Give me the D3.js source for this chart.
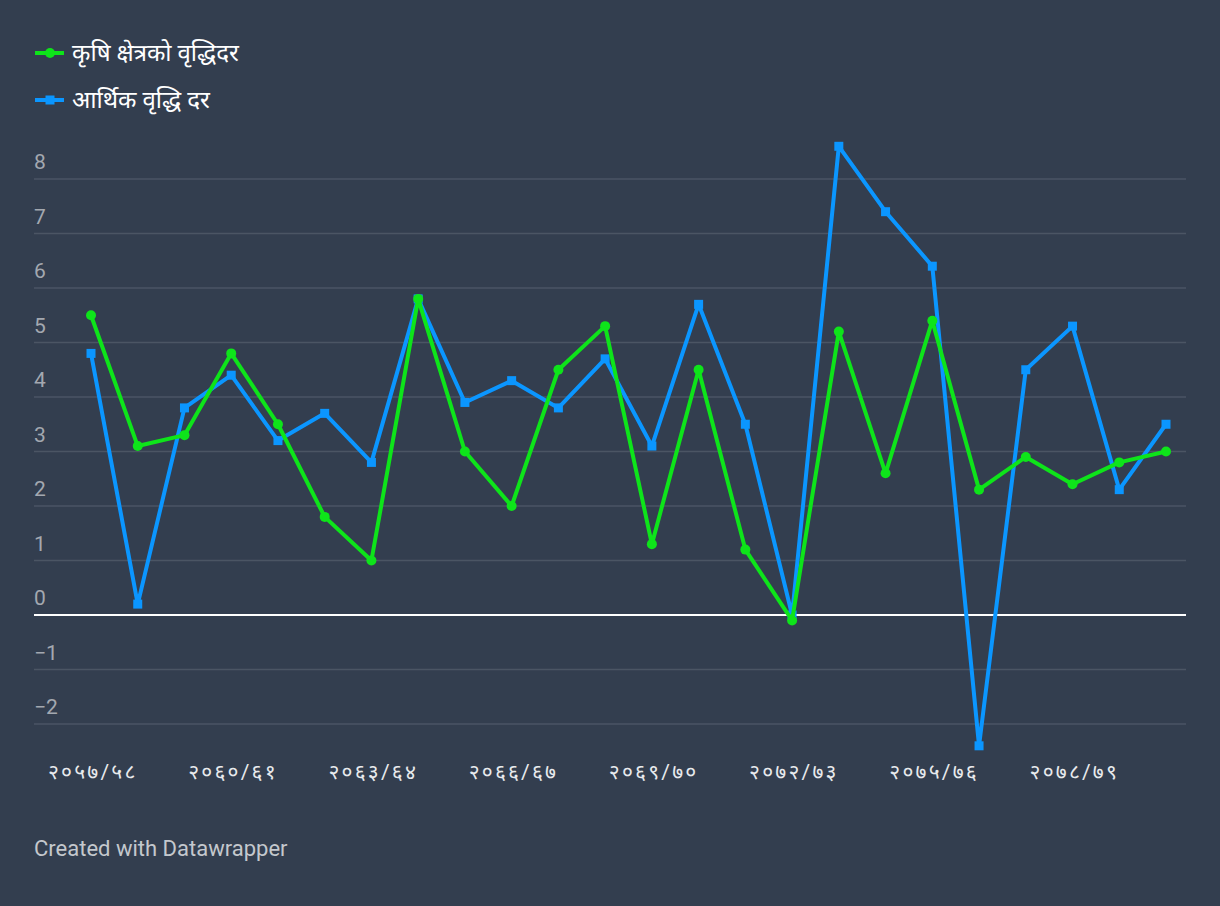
<!DOCTYPE html>
<html><head><meta charset="utf-8">
<script src="https://cdn.jsdelivr.net/npm/d3@7"></script>
<style>
html,body{margin:0;padding:0;background:#333e4f;}
svg{display:block;font-family:Roboto,"Noto Sans",sans-serif;}
</style></head>
<body><svg id="c" width="1220" height="906"></svg>
<script>
const years = ["२०५७/५८","२०५८/५९","२०५९/६०","२०६०/६१","२०६१/६२","२०६२/६३","२०६३/६४","२०६४/६५","२०६५/६६","२०६६/६७","२०६७/६८","२०६८/६९","२०६९/७०","२०७०/७१","२०७१/७२","२०७२/७३","२०७३/७४","२०७४/७५","२०७५/७६","२०७६/७७","२०७७/७८","२०७८/७९","२०७९/८०","२०८०/८१"];
const agri = [5.5,3.1,3.3,4.8,3.5,1.8,1.0,5.8,3.0,2.0,4.5,5.3,1.3,4.5,1.2,-0.1,5.2,2.6,5.4,2.3,2.9,2.4,2.8,3.0];
const gdp = [4.8,0.2,3.8,4.4,3.2,3.7,2.8,5.8,3.9,4.3,3.8,4.7,3.1,5.7,3.5,0.0,8.6,7.4,6.4,-2.4,4.5,5.3,2.3,3.5];
const yTicks = [-2,-1,0,1,2,3,4,5,6,7,8];
const xTickLabels = ["२०५७/५८","२०६०/६१","२०६३/६४","२०६६/६७","२०६९/७०","२०७२/७३","२०७५/७६","२०७८/७९"];
const seriesNames = ["कृषि क्षेत्रको वृद्धिदर","आर्थिक वृद्धि दर"];
const colors = ["#0ee41a","#0b96ff"];

const svg = d3.select("#c");
const x = d3.scalePoint().domain(years).range([91,1166]);
const y = d3.scaleLinear().domain([0,8]).range([615,179]);

// gridlines
const grid = svg.append("g");
yTicks.forEach(t=>{
  grid.append("line").attr("x1",34).attr("x2",1186).attr("y1",y(t)).attr("y2",y(t))
    .attr("stroke", t===0 ? "#ffffff" : "#4b5564").attr("stroke-width", t===0?2:1.5);
  grid.append("text").attr("x",34).attr("y",y(t)-10).text(t<0 ? "\u2212"+Math.abs(t) : t)
    .attr("fill","#a3a8b0").attr("font-size",21);
});

// x labels
xTickLabels.forEach(l=>{
  svg.append("text").attr("x",x(l)-43).attr("y",779).text(l).attr("fill","#e8eaed")
    .attr("font-size",21).attr("letter-spacing",2.2);
});

const line = d3.line().x((d,i)=>x(years[i])).y(d=>y(d));
// blue first, green on top
svg.append("path").datum(gdp).attr("d",line).attr("fill","none").attr("stroke",colors[1]).attr("stroke-width",4).attr("stroke-linejoin","round");
svg.selectAll(".sq").data(gdp).enter().append("rect")
  .attr("x",(d,i)=>x(years[i])-4.5).attr("y",d=>y(d)-4.5).attr("width",9).attr("height",9).attr("fill",colors[1]);
svg.append("path").datum(agri).attr("d",line).attr("fill","none").attr("stroke",colors[0]).attr("stroke-width",4).attr("stroke-linejoin","round");
svg.selectAll(".ci").data(agri).enter().append("circle")
  .attr("cx",(d,i)=>x(years[i])).attr("cy",d=>y(d)).attr("r",5).attr("fill",colors[0]);

// legend
seriesNames.forEach((n,i)=>{
  const ly = 53 + i*47;
  svg.append("line").attr("x1",35).attr("x2",64).attr("y1",ly).attr("y2",ly).attr("stroke",colors[i]).attr("stroke-width",4);
  if(i===0) svg.append("circle").attr("cx",50).attr("cy",ly).attr("r",5).attr("fill",colors[i]);
  else svg.append("rect").attr("x",45.5).attr("y",ly-4.5).attr("width",9).attr("height",9).attr("fill",colors[i]);
  svg.append("text").attr("x",72).attr("y",ly+8).text(n).attr("fill","#ffffff").attr("font-size",24);
});

svg.append("text").attr("x",34).attr("y",856).text("Created with Datawrapper").attr("fill","#c4c8cd").attr("font-size",22);
</script></body></html>
